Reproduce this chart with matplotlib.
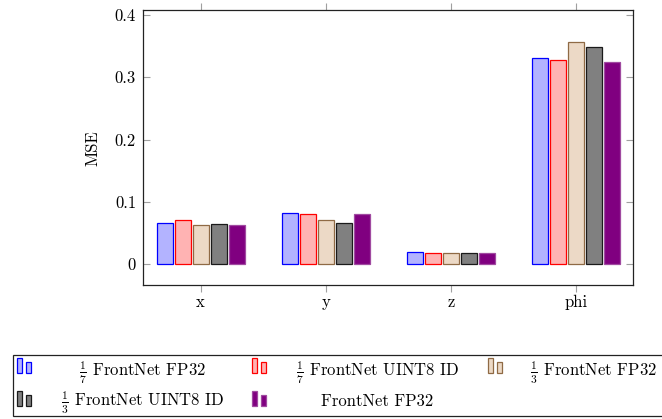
import numpy as np
import matplotlib
matplotlib.use("Agg")
import matplotlib.pyplot as plt
from matplotlib.patches import Rectangle

plt.rcParams["font.family"] = "serif"
plt.rcParams["font.serif"] = ["cmr10"]
plt.rcParams["mathtext.fontset"] = "cm"
plt.rcParams["axes.formatter.use_mathtext"] = True
plt.rcParams["font.size"] = 12

# data
groups = ["x", "y", "z", "phi"]
labels = [r"$\frac{1}{7}$ FrontNet FP32",
          r"$\frac{1}{7}$ FrontNet UINT8 ID",
          r"$\frac{1}{3}$ FrontNet FP32",
          r"$\frac{1}{3}$ FrontNet UINT8 ID",
          "FrontNet FP32"]
mse_17_fp32 = [0.066, 0.082, 0.019, 0.331]
mse_17_uint8 = [0.070, 0.080, 0.018, 0.328]
mse_13_fp32 = [0.063, 0.071, 0.018, 0.356]
mse_13_uint8 = [0.064, 0.066, 0.018, 0.349]
mse_fp32 = [0.062, 0.080, 0.018, 0.324]
yticks = [0, 0.1, 0.2, 0.3, 0.4]
ytick_labels = ["0", "0.1", "0.2", "0.3", "0.4"]

series = [mse_17_fp32, mse_17_uint8, mse_13_fp32, mse_13_uint8, mse_fp32]
fills = ["#b3b3ff", "#ffb3b3", "#ecd9c6", "#808080", "#800080"]
edges = ["#0000ff", "#ff0000", "#8f6a45", "#1a1a1a", "#a04aa0"]

W, H = 662, 419
fig = plt.figure(figsize=(W / 100, H / 100), dpi=100)
ax = fig.add_axes([143 / W, 1 - 285 / H, 490 / W, 274.7 / H])

x = np.arange(len(groups))
pitch = 0.1438
bw = 0.128
for i, vals in enumerate(series):
    ax.bar(x + (i - 2) * pitch, vals, width=bw, color=fills[i],
           edgecolor=edges[i], linewidth=0.9, zorder=2)

ax.set_xlim(-0.46, 3.455)
ax.set_ylim(-0.0337, 0.4076)
ax.set_xticks(x)
ax.set_xticklabels(groups)
ax.set_yticks(yticks)
ax.set_yticklabels(ytick_labels)
ax.tick_params(axis="y", direction="in", left=True, right=True, length=5,
               width=0.8, color="#a0a0a0", pad=5, labelsize=12)
ax.tick_params(axis="x", direction="out", bottom=True, top=True, length=5,
               width=0.8, color="#a0a0a0", pad=2, labelsize=12)
for s in ax.spines.values():
    s.set_linewidth(0.9)
    s.set_color("#222222")
ax.set_ylabel("MSE", labelpad=10)


# legend drawn by hand so the text sits centred in its column like pgfplots
def px(xp, yp):
    return xp / W, 1 - yp / H


def icon(x0, ybot, i):
    for dx, h in [(0, 15), (9, 11)]:
        fx, fy = px(x0 + dx, ybot)
        fig.add_artist(Rectangle((fx, fy), 4.5 / W, h / H, facecolor=fills[i],
                                 edgecolor=edges[i], linewidth=0.9,
                                 transform=fig.transFigure))


fx, fy = px(12.5, 416)
fig.add_artist(Rectangle((fx, fy), 660 / W, 61 / H, facecolor="white",
                         edgecolor="#222222", linewidth=0.9,
                         transform=fig.transFigure, zorder=0))

icon_x = [17, 252, 488, 17, 252]
icon_bot = [373, 373, 373, 406, 406]
text_cx = [142.5, 377.5, 593, 142.5, 377]
text_base = [376, 376, 376, 406, 406]
for i in range(5):
    icon(icon_x[i], icon_bot[i], i)
    tx, ty = px(text_cx[i], text_base[i])
    fig.text(tx, ty, labels[i], ha="center", va="baseline", fontsize=12)

fig.savefig("out.png", dpi=100)
